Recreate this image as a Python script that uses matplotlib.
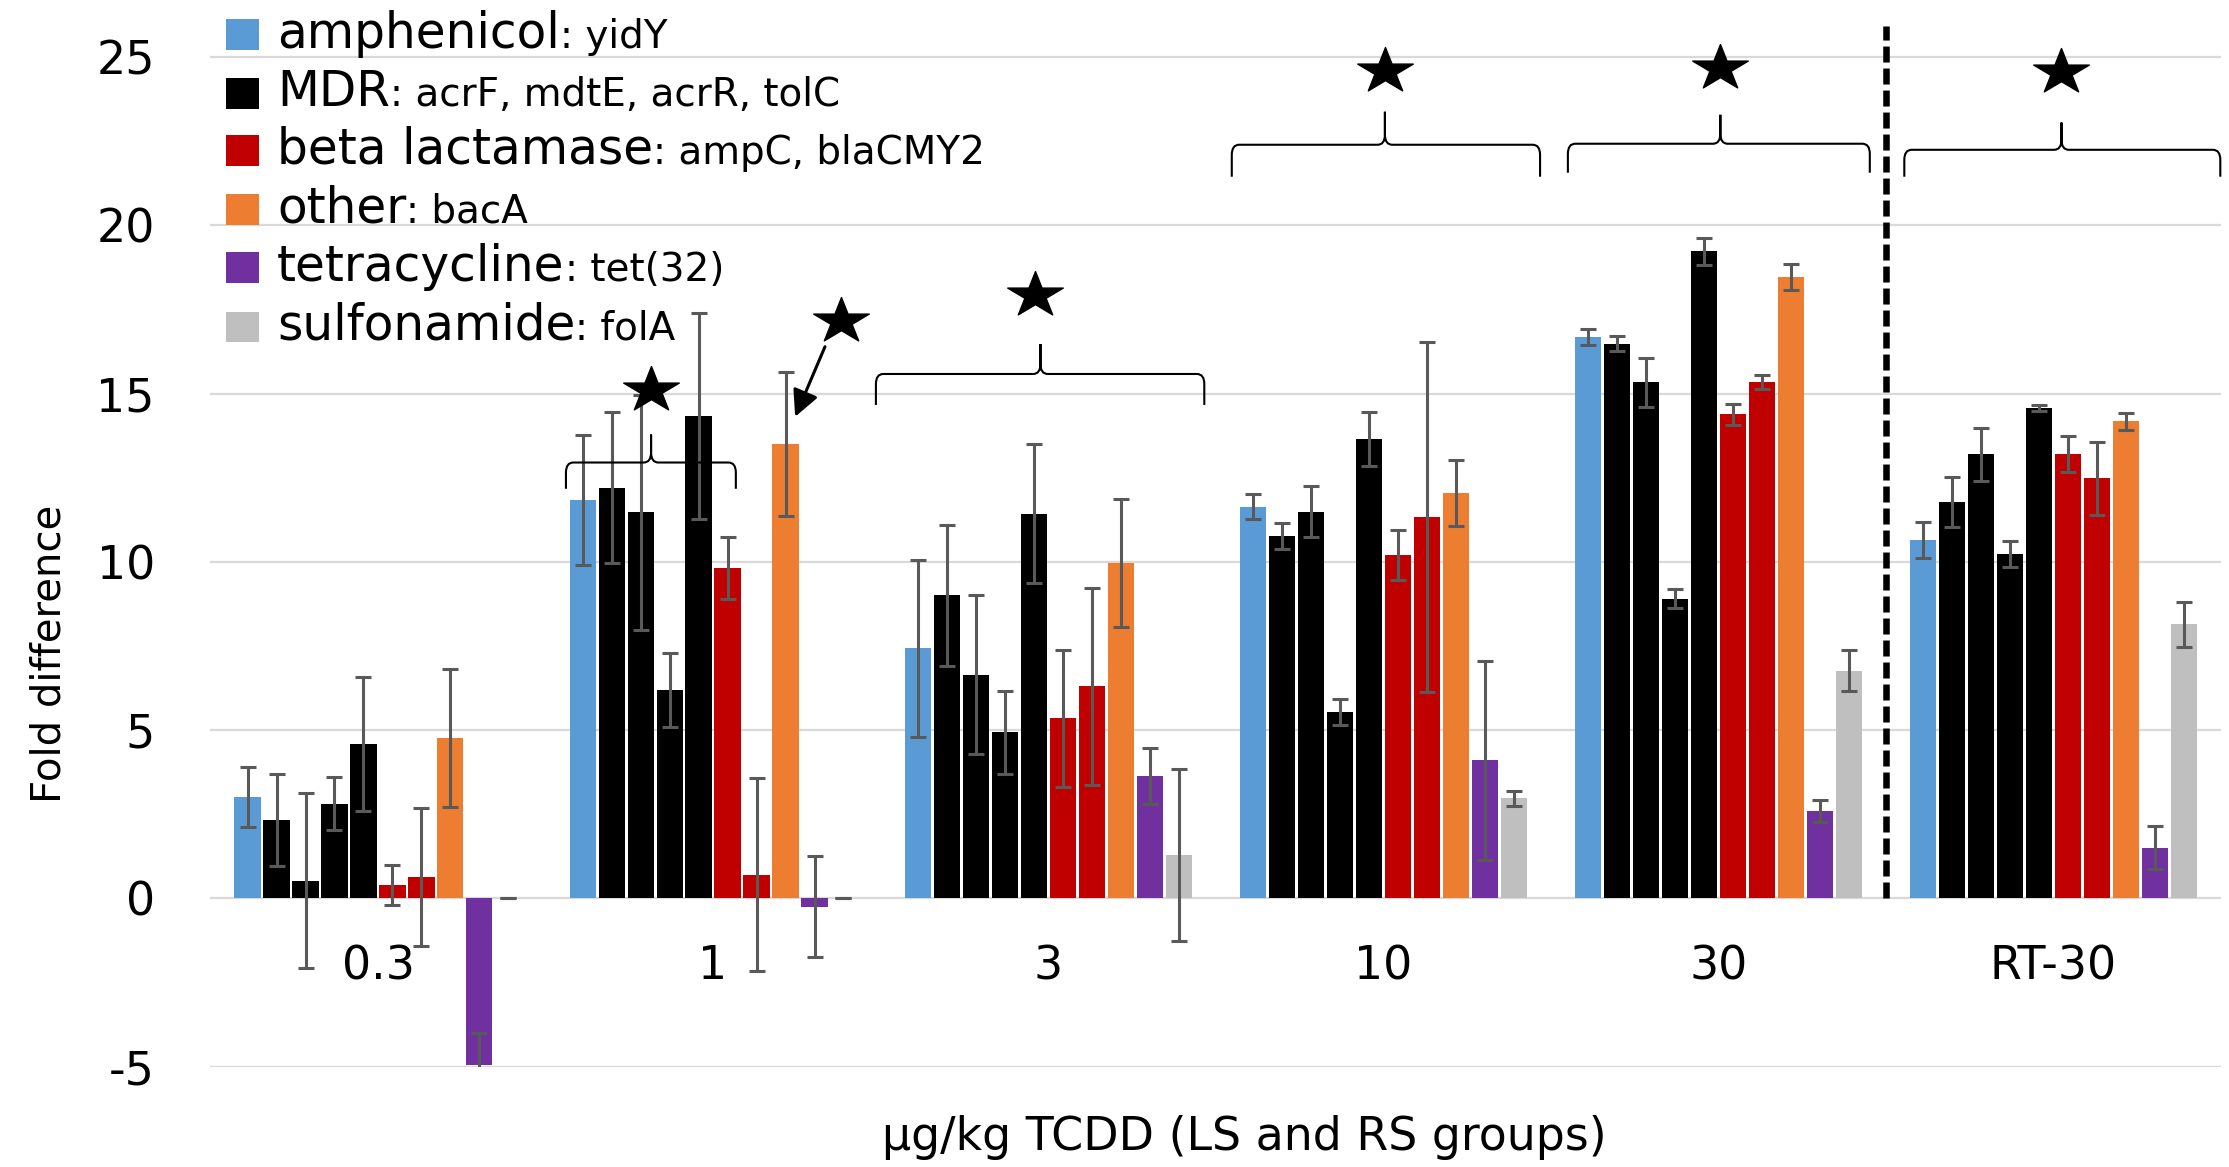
import matplotlib
matplotlib.use("Agg")
import matplotlib.pyplot as plt
import numpy as np
from matplotlib.path import Path
from matplotlib.patches import PathPatch, Rectangle

plt.rcParams['font.family'] = ['DejaVu Sans']

# ---------------- data ----------------
groups = ["0.3", "1", "3", "10", "30", "RT-30"]
genes = ["yidY", "acrF", "mdtE", "acrR", "tolC", "ampC", "blaCMY2", "bacA", "tet(32)", "folA"]
gene_class = ["amphenicol", "MDR", "MDR", "MDR", "MDR",
              "beta lactamase", "beta lactamase", "other", "tetracycline", "sulfonamide"]

# fold difference for each gene across dose groups
yidY    = [3.00, 11.84, 7.43, 11.63, 16.69, 10.65]
acrF    = [2.33, 12.20, 9.00, 10.76, 16.48, 11.77]
mdtE    = [0.53, 11.47, 6.65, 11.49, 15.33, 13.19]
acrR    = [2.81, 6.19, 4.93, 5.54, 8.91, 10.24]
tolC    = [4.59, 14.32, 11.43, 13.65, 19.22, 14.57]
ampC    = [0.40, 9.82, 5.35, 10.21, 14.38, 13.21]
blaCMY2 = [0.65, 0.71, 6.30, 11.32, 15.34, 12.48]
bacA    = [4.76, 13.50, 9.96, 12.04, 18.46, 14.17]
tet32   = [-4.94, -0.24, 3.63, 4.10, 2.59, 1.51]
folA    = [0.00, 0.00, 1.30, 2.97, 6.77, 8.14]

# error (+/-) for each gene across dose groups
yidY_err    = [0.89, 1.93, 2.62, 0.37, 0.24, 0.54]
acrF_err    = [1.36, 2.24, 2.10, 0.38, 0.23, 0.74]
mdtE_err    = [2.60, 3.50, 2.37, 0.76, 0.72, 0.78]
acrR_err    = [0.79, 1.10, 1.22, 0.38, 0.27, 0.39]
tolC_err    = [2.00, 3.06, 2.06, 0.80, 0.41, 0.09]
ampC_err    = [0.60, 0.93, 2.04, 0.75, 0.32, 0.54]
blaCMY2_err = [2.05, 2.88, 2.93, 5.20, 0.22, 1.08]
bacA_err    = [2.05, 2.15, 1.90, 0.98, 0.39, 0.25]
tet32_err   = [0.95, 1.50, 0.83, 2.96, 0.32, 0.64]
folA_err    = [0.00, 0.00, 2.55, 0.23, 0.62, 0.67]

values = [yidY, acrF, mdtE, acrR, tolC, ampC, blaCMY2, bacA, tet32, folA]
errors = [yidY_err, acrF_err, mdtE_err, acrR_err, tolC_err, ampC_err,
          blaCMY2_err, bacA_err, tet32_err, folA_err]

legend_main = ["amphenicol", "MDR", "beta lactamase", "other", "tetracycline", "sulfonamide"]
legend_genes = [": yidY", ": acrF, mdtE, acrR, tolC", ": ampC, blaCMY2", ": bacA", ": tet(32)", ": folA"]

y_ticks = [-5, 0, 5, 10, 15, 20, 25]

# ---------------- styles ----------------
class_colors = {
    "amphenicol": "#5B9BD5",
    "MDR": "#000000",
    "beta lactamase": "#C00000",
    "other": "#ED7D31",
    "tetracycline": "#7030A0",
    "sulfonamide": "#BFBFBF",
}

fig = plt.figure(figsize=(22.29, 11.67), dpi=100)
ax = fig.add_axes([0.0944, 0.0859, 0.902, 0.9141])
ax.set_xlim(-0.5, len(groups) - 0.5)
ax.set_ylim(-5, 26.69)

x = np.arange(len(groups))
step = 0.0865
width = 0.078
n = len(genes)
for j in range(n):
    pos = x + (j - (n - 1) / 2) * step
    col = class_colors[gene_class[j]]
    ax.bar(pos, values[j], width, color=col, zorder=2)
    ax.errorbar(pos, values[j], yerr=errors[j], fmt='none', ecolor='#595959',
                elinewidth=2.2, capsize=6, capthick=2.2, zorder=3)

ax.set_yticks(y_ticks)
ax.set_yticklabels([str(t) for t in y_ticks])
ax.yaxis.grid(True, color='#D9D9D9', lw=1.6, zorder=0)
ax.set_axisbelow(True)
ax.set_xticks([])
for s in ax.spines.values():
    s.set_visible(False)
ax.tick_params(axis='y', length=0, pad=40, labelsize=33)

# category labels (placed near the zero line, Excel style)
for i, g in enumerate(groups):
    ax.text(i, -2.03, g, ha='center', va='center', fontsize=33)

ax.text(0.514, -0.066, 'μg/kg TCDD (LS and RS groups)', transform=ax.transAxes,
        ha='center', va='center', fontsize=33)
ax.text(-0.0798, 0.387, 'Fold difference', transform=ax.transAxes, rotation=90,
        ha='center', va='center', fontsize=29)

# dashed separator between 30 and RT-30
ax.plot([4.5, 4.5], [0, 25.92], color='black', lw=4.7, dashes=(2.45, 0.92),
        zorder=4, clip_on=False)

# braces
def brace(x0, x1, xc, y_mid, y_end, y_peak, rx=0.022, ry=0.3):
    verts = [(x0, y_end), (x0, y_mid - ry), (x0, y_mid), (x0 + rx, y_mid),
             (xc - rx, y_mid), (xc, y_mid), (xc, y_mid + ry), (xc, y_peak),
             (x1, y_end), (x1, y_mid - ry), (x1, y_mid), (x1 - rx, y_mid),
             (xc + rx, y_mid), (xc, y_mid), (xc, y_mid + ry), (xc, y_peak)]
    codes = [Path.MOVETO, Path.LINETO, Path.CURVE3, Path.CURVE3,
             Path.LINETO, Path.CURVE3, Path.CURVE3, Path.LINETO,
             Path.MOVETO, Path.LINETO, Path.CURVE3, Path.CURVE3,
             Path.LINETO, Path.CURVE3, Path.CURVE3, Path.LINETO]
    ax.add_patch(PathPatch(Path(verts, codes), fill=False, lw=1.5,
                           edgecolor='black', zorder=5, clip_on=False))

braces = [
    (0.561, 1.068, 0.815, 12.95, 12.17, 13.78),
    (1.486, 2.466, 1.977, 15.58, 14.66, 16.47),
    (2.548, 3.468, 3.005, 22.39, 21.44, 23.37),
    (3.551, 4.452, 4.006, 22.42, 21.56, 23.28),
    (4.555, 5.498, 5.024, 22.24, 21.44, 23.05),
]
for b in braces:
    brace(*b)

# stars (squat five-point star)
sv = Path.unit_regular_star(5, 0.381966).vertices.copy()
sv[:, 1] *= 0.82
star_marker = Path(sv, Path.unit_regular_star(5, 0.381966).codes)
stars_x = [0.815, 1.382, 1.96, 3.005, 4.006, 5.024]
stars_y = [15.09, 17.14, 17.92, 24.58, 24.67, 24.54]
ax.plot(stars_x, stars_y, linestyle='none', marker=star_marker, ms=40,
        color='black', zorder=6, clip_on=False)

ax.annotate('', xy=(1.245, 14.31), xytext=(1.334, 16.39),
            arrowprops=dict(arrowstyle='-|>', color='black', lw=2.2,
                            mutation_scale=40, shrinkA=0, shrinkB=0),
            zorder=6)

# legend (manual, mixed font sizes)
legend_classes = ["amphenicol", "MDR", "beta lactamase", "other", "tetracycline", "sulfonamide"]
baselines = [25.27, 23.54, 21.82, 20.07, 18.35, 16.59]
fig.canvas.draw()
renderer = fig.canvas.get_renderer()
for k, cls in enumerate(legend_classes):
    yb = baselines[k]
    ax.add_patch(Rectangle((-0.4534, yb + 0.386 - 0.46), 0.0985, 0.92,
                           facecolor=class_colors[cls], edgecolor='none',
                           zorder=7, clip_on=False))
    t = ax.text(-0.3013, yb, legend_main[k], fontsize=35, va='baseline', ha='left',
                zorder=7, clip_on=False)
    bb = t.get_window_extent(renderer=renderer)
    xs = ax.transData.inverted().transform((bb.x1, 0))[0]
    ax.text(xs, yb, legend_genes[k], fontsize=28, va='baseline', ha='left',
            zorder=7, clip_on=False)

fig.savefig('out.png', dpi=100)
